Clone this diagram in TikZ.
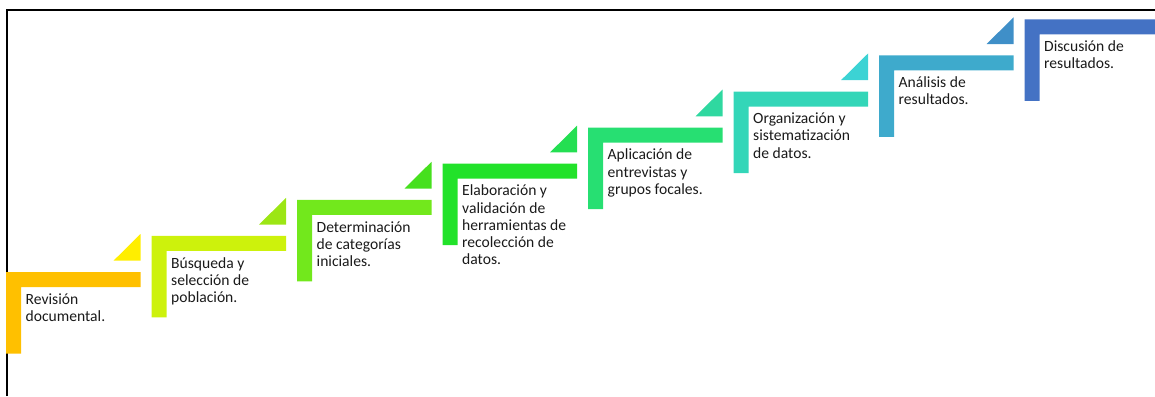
\documentclass[tikz,border=0pt]{standalone}
\usepackage{fontspec}
\setmainfont{Carlito}
\usetikzlibrary{positioning}
\definecolor{StepOrange}{RGB}{255,192,0}
\definecolor{TriYellow}{RGB}{255,238,0}
\definecolor{StepLime}{RGB}{205,242,12}
\definecolor{TriLime}{RGB}{156,230,20}
\definecolor{StepGreenA}{RGB}{114,232,28}
\definecolor{TriGreenA}{RGB}{70,224,30}
\definecolor{StepGreenB}{RGB}{34,226,42}
\definecolor{TriGreenB}{RGB}{36,223,82}
\definecolor{StepGreenC}{RGB}{39,223,114}
\definecolor{TriTeal}{RGB}{47,216,160}
\definecolor{StepTeal}{RGB}{51,214,184}
\definecolor{TriCyan}{RGB}{60,211,212}
\definecolor{StepCyan}{RGB}{62,170,204}
\definecolor{TriBlue}{RGB}{63,143,200}
\definecolor{StepBlue}{RGB}{68,114,196}
\definecolor{LabelGray}{RGB}{26,26,26}
% one stair: L-shaped bar with its top left corner at (#2,#3)
\newcommand{\stairbar}[3]{\fill[#1] (#2,#3) -- ++(134.5,0) -- ++(0,15) -- ++(-119.5,0) -- ++(0,66.5) -- ++(-15,0) -- cycle;}
% small corner triangle above the right end of a stair
\newcommand{\stairtri}[3]{\fill[#1] (#2,#3) ++(107.5,-11.3) -- ++(27,0) -- ++(0,-26.7) -- cycle;}

\begin{document}
\begin{tikzpicture}[x=1pt,y=-1pt,
  steplabel/.style={anchor=north west,inner sep=0pt,align=left,text=LabelGray,font=\fontsize{15.6}{17.2}\selectfont}]
\useasboundingbox (0,0) rectangle (1155,396);
\draw[line width=2pt] (7,396) -- (7,10.3) -- (1155,10.3);
% stairs
\stairbar{StepOrange}{6}{272}
\stairtri{TriYellow}{6}{272}
\stairbar{StepLime}{151.5}{235.9}
\stairtri{TriLime}{151.5}{235.9}
\stairbar{StepGreenA}{297}{199.8}
\stairtri{TriGreenA}{297}{199.8}
\stairbar{StepGreenB}{442.5}{163.7}
\stairtri{TriGreenB}{442.5}{163.7}
\stairbar{StepGreenC}{588}{127.6}
\stairtri{TriTeal}{588}{127.6}
\stairbar{StepTeal}{733.5}{91.5}
\stairtri{TriCyan}{733.5}{91.5}
\stairbar{StepCyan}{879}{55.4}
\stairtri{TriBlue}{879}{55.4}
\fill[StepBlue] (1024.5,19.3) -- (1155,19.3) -- (1155,34.3) -- (1039.5,34.3) -- (1039.5,100.8) -- (1024.5,100.8) -- cycle;
% labels
\node[steplabel] (revision) at (25.5,288) {\rule{0pt}{16pt}Revisión\\documental.};
\node[steplabel] (busqueda) at (171,251.9) {\rule{0pt}{16pt}Búsqueda y\\selección de\\población.};
\node[steplabel] (categorias) at (316.5,215.8) {\rule{0pt}{16pt}Determinación\\de categorías\\iniciales.};
\node[steplabel] (herramientas) at (462,179.7) {\rule{0pt}{16pt}Elaboración y\\validación de\\herramientas de\\recolección de\\datos.};
\node[steplabel] (entrevistas) at (607.5,143.6) {\rule{0pt}{16pt}Aplicación de\\entrevistas y\\grupos focales.};
\node[steplabel] (organizacion) at (753,107.5) {\rule{0pt}{16pt}Organización y\\sistematización\\de datos.};
\node[steplabel] (analisis) at (898.5,71.4) {\rule{0pt}{16pt}Análisis de\\resultados.};
\node[steplabel] (discusion) at (1044,35.3) {\rule{0pt}{16pt}Discusión de\\resultados.};
\end{tikzpicture}
\end{document}
